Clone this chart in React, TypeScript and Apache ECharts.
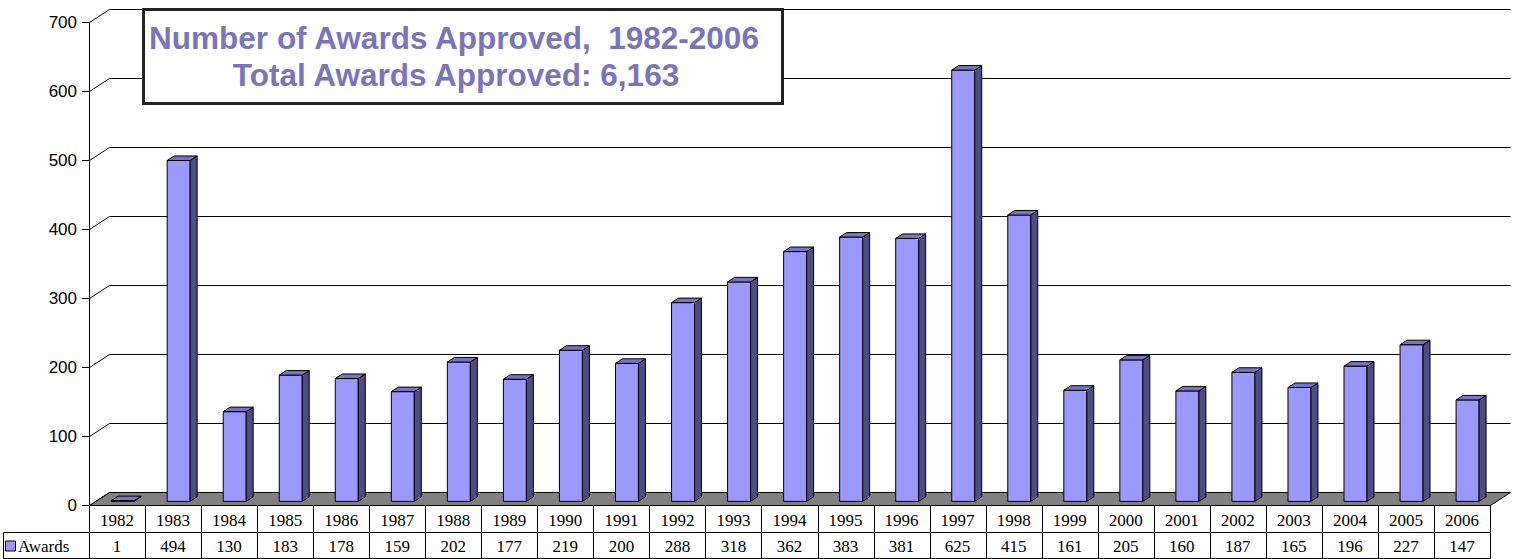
import React, { useEffect, useRef } from 'react';
import * as echarts from 'echarts';

const years = ['1982','1983','1984','1985','1986','1987','1988','1989','1990','1991','1992','1993','1994','1995','1996','1997','1998','1999','2000','2001','2002','2003','2004','2005','2006'];
const awards = [1,494,130,183,178,159,202,177,219,200,288,318,362,383,381,625,415,161,205,160,187,165,196,227,147];
const yTicks = [0,100,200,300,400,500,600,700];
const seriesName = 'Awards';
const titleLine1 = 'Number of Awards Approved,  1982-2006';
const titleLine2 = 'Total Awards Approved: 6,163';

const DX = 20, DY = -13;
const D0 = 0.28, D1 = 0.63;
const FRONT = '#9999FF', SIDE = '#4D4D80', TOP = '#7575C4';
const SERIF = '"Liberation Serif", "Times New Roman", serif';
const SANS = '"Liberation Sans", Arial, sans-serif';

export default function App() {
  const ref = useRef<HTMLDivElement>(null);
  useEffect(() => {
    const chart = echarts.init(ref.current!, null, { renderer: 'svg' });

    const frameItem = (params: any, api: any) => {
      const cs = params.coordSys;
      const t = api.value(1);
      const y = Math.round(api.coord([0, t])[1]) + 0.5;
      const x0 = Math.round(cs.x) + 0.5;
      const xr = Math.round(cs.x + cs.width) + 0.5;
      const children: any[] = [];
      if (params.dataIndex === 0) {
        children.push({ type: 'polygon', shape: { points: [[x0, y], [x0 + DX, y + DY], [xr + DX, y + DY], [xr, y]] }, style: { fill: '#808080', stroke: '#000', lineWidth: 1 } });
      }
      children.push({ type: 'line', shape: { x1: x0, y1: y, x2: x0 + DX, y2: y + DY }, style: { stroke: '#000', lineWidth: 1 } });
      children.push({ type: 'line', shape: { x1: x0 + DX, y1: y + DY, x2: xr + DX, y2: y + DY }, style: { stroke: '#000', lineWidth: 1 } });
      return { type: 'group', children };
    };

    const barItem = (params: any, api: any) => {
      const i = api.value(0);
      const v = api.value(1);
      const p0 = api.coord([i, 0]);
      const p1 = api.coord([i, v]);
      const bw = api.size([1, 0])[0];
      const half = bw * 0.205;
      const xl = p0[0] - half + D0 * DX;
      const xr = p0[0] + half + D0 * DX;
      const yb = p0[1] + D0 * DY;
      const yt = p1[1] + D0 * DY;
      const ddx = (D1 - D0) * DX, ddy = (D1 - D0) * DY;
      const st = { stroke: '#000', lineWidth: 1, lineJoin: 'round' };
      return {
        type: 'group',
        children: [
          { type: 'polygon', shape: { points: [[xl, yb], [xr, yb], [xr, yt], [xl, yt]] }, style: { ...st, fill: FRONT } },
          { type: 'polygon', shape: { points: [[xr, yb], [xr + ddx, yb + ddy], [xr + ddx, yt + ddy], [xr, yt]] }, style: { ...st, fill: SIDE } },
          { type: 'polygon', shape: { points: [[xl, yt], [xr, yt], [xr + ddx, yt + ddy], [xl + ddx, yt + ddy]] }, style: { ...st, fill: TOP } },
        ],
      };
    };

    const tableItem = (params: any, api: any) => {
      const cs = params.coordSys;
      const i = api.value(0);
      const bw = api.size([1, 0])[0];
      const cx = api.coord([i, 0])[0];
      const left = Math.round(cx - bw / 2) + 0.5;
      const right = Math.round(cx + bw / 2) + 0.5;
      const top = Math.round(cs.y + cs.height) + 0.5;
      const mid = top + 27;
      const bottom = top + 53;
      const cellStyle = { fill: '#fff', stroke: '#000', lineWidth: 1 };
      const txt = (text: string, x: number, y: number, align = 'center') => ({
        type: 'text',
        style: { text, x, y, align, verticalAlign: 'middle', textAlign: align, textVerticalAlign: 'middle', fontSize: 17, fontFamily: SERIF, fill: '#000' },
      });
      const children: any[] = [
        { type: 'rect', shape: { x: left, y: top, width: right - left, height: mid - top }, style: cellStyle },
        { type: 'rect', shape: { x: left, y: mid, width: right - left, height: bottom - mid }, style: cellStyle },
        txt(years[i], cx, (top + mid) / 2 + 1),
        txt(String(awards[i]), cx, (mid + bottom) / 2 + 1),
      ];
      if (i === 0) {
        children.push({ type: 'rect', shape: { x: 3.5, y: mid, width: left - 3.5, height: bottom - mid }, style: cellStyle });
        children.push({ type: 'rect', shape: { x: 5.5, y: mid + 8.5, width: 10, height: 10 }, style: { fill: FRONT, stroke: '#000', lineWidth: 1 } });
        children.push(txt(seriesName, 18, (mid + bottom) / 2 + 1, 'left'));
      }
      return { type: 'group', children };
    };

    chart.setOption({
      animation: false,
      grid: { left: 89, right: 25, top: 22, bottom: 54 },
      xAxis: {
        type: 'category',
        data: years,
        axisLine: { show: false },
        axisTick: { show: false },
        axisLabel: { show: false },
        splitLine: { show: false },
      },
      yAxis: {
        type: 'value',
        min: 0,
        max: 700,
        interval: 100,
        axisLine: { show: true, lineStyle: { color: '#000', width: 1 } },
        axisTick: { show: true, length: 7, lineStyle: { color: '#000' } },
        axisLabel: { fontSize: 17, fontFamily: SANS, color: '#000', margin: 12 },
        splitLine: { show: false },
      },
      graphic: [
        { type: 'rect', shape: { x: 143.5, y: 9.5, width: 639, height: 94 }, style: { fill: '#fff', stroke: '#222', lineWidth: 3 }, z: 100 },
        { type: 'text', x: 454, y: 38, style: { text: titleLine1, font: `bold 31.5px ${SANS}`, fill: '#7A74BC', align: 'center', verticalAlign: 'middle', textAlign: 'center', textVerticalAlign: 'middle' }, z: 101 },
        { type: 'text', x: 456, y: 75, style: { text: titleLine2, font: `bold 31.5px ${SANS}`, fill: '#7A74BC', align: 'center', verticalAlign: 'middle', textAlign: 'center', textVerticalAlign: 'middle' }, z: 101 },
      ],
      series: [
        { name: 'frame', type: 'custom', silent: true, z: 1, renderItem: frameItem, data: yTicks.map((t) => [0, t]) },
        { name: 'table', type: 'custom', silent: true, z: 2, renderItem: tableItem, data: awards.map((v, i) => [i, v]) },
        { name: seriesName, type: 'custom', z: 3, renderItem: barItem, data: awards.map((v, i) => [i, v]) },
      ],
    });
    return () => chart.dispose();
  }, []);
  return <div ref={ref} style={{ position: 'fixed', left: 0, top: 0, width: 1515, height: 559, background: '#fff' }} />;
}
